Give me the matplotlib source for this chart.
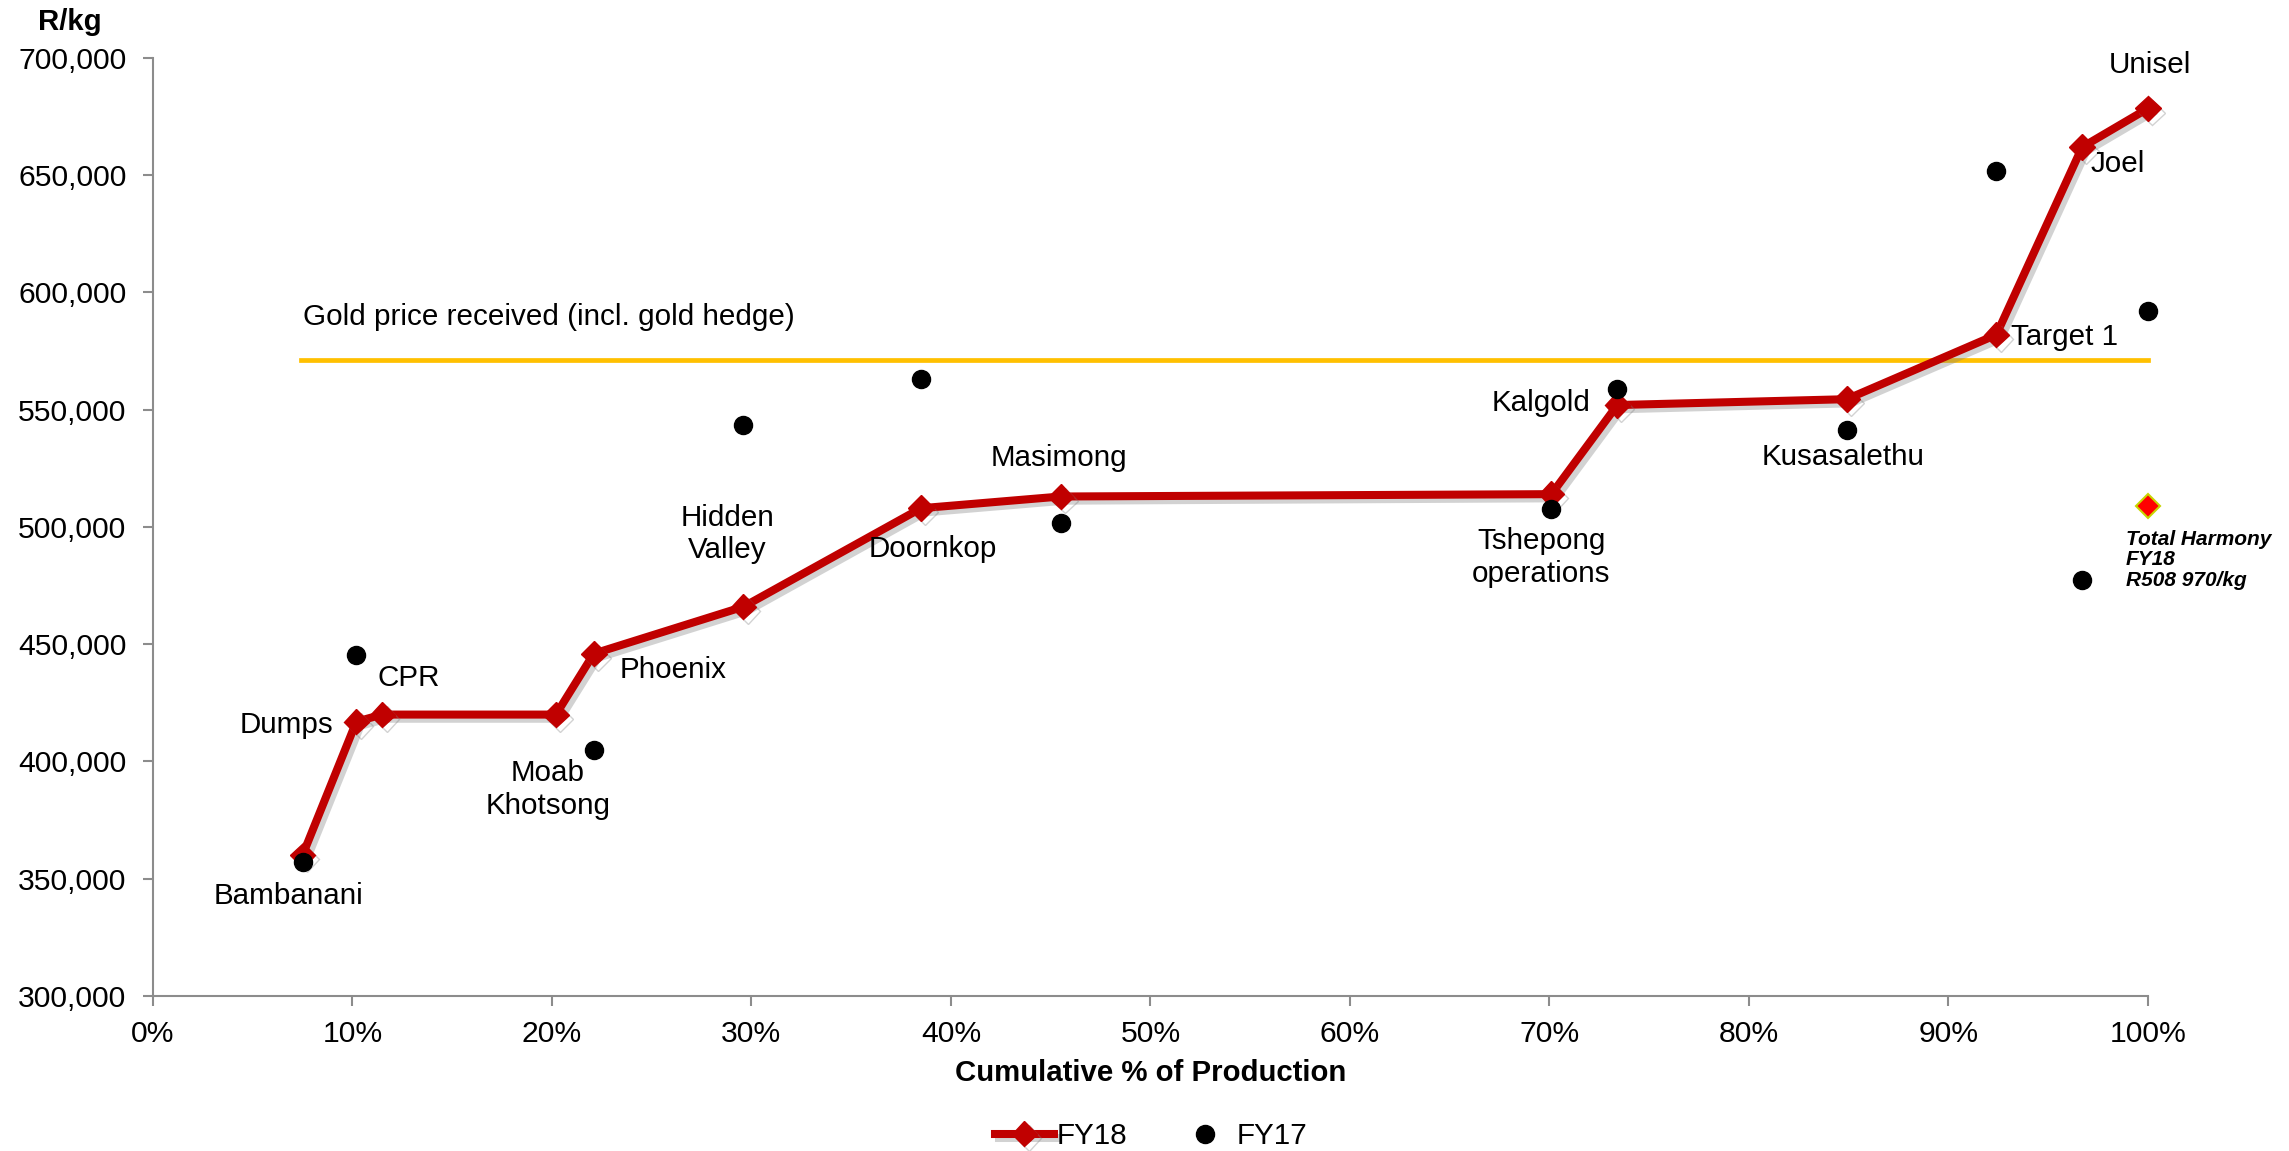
import matplotlib
matplotlib.use("Agg")
import matplotlib.pyplot as plt
import matplotlib.patheffects as pe
from matplotlib.ticker import FuncFormatter, MultipleLocator

plt.rcParams['font.family'] = ['Liberation Sans', 'DejaVu Sans']

# Cumulative share of production (%) and cost per kg for each operation
mines = ["Bambanani", "Dumps", "CPR", "Moab Khotsong", "Phoenix", "Hidden Valley",
         "Doornkop", "Masimong", "Tshepong operations", "Kalgold", "Kusasalethu",
         "Target 1", "Joel", "Unisel"]
cum_pct = [7.5, 10.2, 11.5, 20.2, 22.1, 29.6, 38.5, 45.5, 70.1, 73.4, 84.9, 92.4, 96.7, 100.0]
fy18 = [360000, 417000, 420000, 420000, 446000, 466000, 508000, 513000,
        514000, 552000, 554500, 582000, 662000, 678500]
fy17 = [357000, 445500, 420000, 405000, 446000, 543500, 563000, 501500,
        507500, 559000, 541500, 652000, 477500, 592000]
fy17_pct = [7.5, 10.2, None, 22.1, None, 29.6, 38.5, 45.5, 70.1, 73.4, 84.9, 92.4, 96.7, 100.0]

gold_price = 571000
gold_span = [7.4, 100.0]
total_harmony = 508970

# label positions (x %, y R/kg)
label_text = ["Bambanani", "Dumps", "CPR", "Moab\nKhotsong", "Phoenix", "Hidden\nValley",
              "Doornkop", "Masimong", "Tshepong\noperations", "Kalgold", "Kusasalethu",
              "Target 1", "Joel", "Unisel"]
label_xy = [(6.8, 342500), (6.7, 415500), (12.8, 435500), (19.8, 388000), (26.1, 439000),
            (28.8, 497000), (39.1, 490500), (45.4, 529500), (69.6, 487000), (69.6, 553000),
            (84.7, 530000), (95.8, 581000), (98.5, 655000), (100.1, 697000)]

fig = plt.figure(figsize=(22.89, 11.51), dpi=100)
ax = fig.add_axes([0.0668, 0.1347, 0.8716, 0.8149])

ax.plot(gold_span, [gold_price, gold_price], color="#FFC000", lw=3.4, zorder=2,
        clip_on=False)

ax.plot(cum_pct, fy18, color="#C00000", lw=5.8, marker="D", markersize=13,
        zorder=3, label="FY18", clip_on=False,
        path_effects=[pe.SimpleLineShadow(offset=(3, -3), shadow_color="#808080", alpha=0.35),
                      pe.Normal()])

pts = [(x, y) for x, y in zip(fy17_pct, fy17) if x is not None]
ax.plot([p[0] for p in pts], [p[1] for p in pts], linestyle="none", marker="o",
        markersize=13, color="black", zorder=4, label="FY17", clip_on=False)

ax.plot([100.0], [total_harmony], linestyle="none", marker="D", markersize=12,
        markerfacecolor="#FF0000", markeredgecolor="#C8D400", markeredgewidth=1.5,
        zorder=5, clip_on=False)
ax.text(98.9, 486000, "Total Harmony\nFY18\nR508 970/kg", fontsize=15, fontweight="bold",
        fontstyle="italic", ha="left", va="center", linespacing=1.1)

for txt, (x, y) in zip(label_text, label_xy):
    ax.text(x, y, txt, fontsize=21.3, ha="center", va="center", linespacing=1.2)

ax.text(7.5, 589500, "Gold price received (incl. gold hedge)", fontsize=21.3,
        ha="left", va="center")

ax.set_xlim(0, 100)
ax.set_ylim(300000, 700000)
ax.xaxis.set_major_locator(MultipleLocator(10))
ax.yaxis.set_major_locator(MultipleLocator(50000))
ax.xaxis.set_major_formatter(FuncFormatter(lambda v, p: "%d%%" % v))
ax.yaxis.set_major_formatter(FuncFormatter(lambda v, p: "{:,.0f}".format(v)))

for s in ["top", "right"]:
    ax.spines[s].set_visible(False)
for s in ["left", "bottom"]:
    ax.spines[s].set_color("#8C8C8C")
    ax.spines[s].set_linewidth(1.5)
ax.tick_params(axis="both", colors="#8C8C8C", labelcolor="black", labelsize=21.7,
               length=7, width=1.5, direction="out")
ax.tick_params(axis="x", pad=10)
ax.tick_params(axis="y", pad=12)

ax.set_xlabel("Cumulative % of Production", fontsize=21.2, fontweight="bold", labelpad=8)
fig.text(0.0306, 0.981, "R/kg", fontsize=21.2, fontweight="bold", ha="center", va="center")

fig.legend(loc="center", bbox_to_anchor=(0.503, 0.013), ncol=2, frameon=False,
           fontsize=21.3, handlelength=2.0, columnspacing=1.6, handletextpad=0.1)

fig.savefig("out.png", dpi=100)
